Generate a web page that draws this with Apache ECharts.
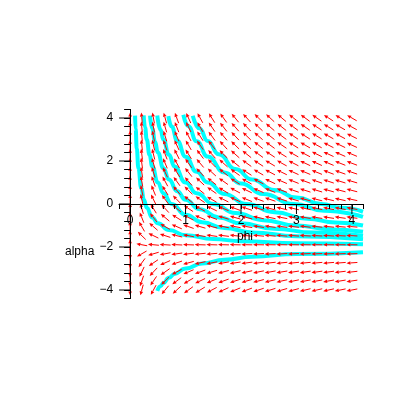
<!DOCTYPE html>
<html>
<head>
<meta charset="utf-8">
<script src="https://cdn.jsdelivr.net/npm/echarts@6/dist/echarts.min.js"></script>
<style>
  html, body { margin: 0; padding: 0; background: #fff; }
  #chart { width: 409px; height: 409px; }
</style>
</head>
<body>
<div id="chart"></div>
<script>
// arrow grid (20 x 20)
var phiGrid = [0, 0.211, 0.421, 0.632, 0.842, 1.053, 1.263, 1.474, 1.684, 1.895,
  2.105, 2.316, 2.526, 2.737, 2.947, 3.158, 3.368, 3.579, 3.789, 4.0]
var alphaGrid = [-4, -3.579, -3.158, -2.737, -2.316, -1.895, -1.474, -1.053, -0.632, -0.211,
  0.211, 0.632, 1.053, 1.474, 1.895, 2.316, 2.737, 3.158, 3.579, 4.0]
// horizontal rate for each column, vertical rate for each row
var phiRate = [0, -0.211, -0.421, -0.632, -0.842, -1.053, -1.263, -1.474, -1.684, -1.895,
  -2.105, -2.316, -2.526, -2.737, -2.947, -3.158, -3.368, -3.579, -3.789, -4.0]
var alphaRate = [-2, -1.579, -1.158, -0.737, -0.316, 0.105, 0.526, 0.947, 1.368, 1.789,
  2.211, 2.632, 3.053, 3.474, 3.895, 4.316, 4.737, 5.158, 5.579, 6.0]

// solution curves [phi, alpha]
var curveA = [[0.09, 4.11], [0.10, 3.5], [0.12, 2.58], [0.15, 1.67], [0.2, 0.75], [0.25, 0.2],
  [0.3, -0.17], [0.4, -0.63], [0.5, -0.9], [0.7, -1.21], [1.0, -1.45], [1.5, -1.63],
  [2.0, -1.73], [3.0, -1.82], [4.2, -1.87]]
var curveB = [[0.245, 4.12], [0.27, 3.56], [0.3, 3.0], [0.35, 2.29], [0.4, 1.75], [0.5, 1.0],
  [0.6, 0.5], [0.75, 0], [1.0, -0.5], [1.3, -0.85], [1.7, -1.12], [2.2, -1.32],
  [3.0, -1.5], [4.2, -1.64]]
var curveC = [[0.36, 4.11], [0.4, 3.5], [0.45, 2.89], [0.5, 2.4], [0.6, 1.67], [0.7, 1.14],
  [0.85, 0.59], [1.0, 0.2], [1.25, -0.24], [1.6, -0.625], [2.0, -0.9], [2.6, -1.15],
  [3.3, -1.33], [4.2, -1.48]]
var curveD = [[0.49, 4.12], [0.55, 3.45], [0.6, 3.0], [0.7, 2.29], [0.8, 1.75], [1.0, 1.0],
  [1.2, 0.5], [1.5, 0], [1.9, -0.42], [2.4, -0.75], [3.0, -1.0], [3.6, -1.17], [4.2, -1.29]]
var curveE = [[0.69, 4.09], [0.75, 3.6], [0.85, 2.94], [1.0, 2.2], [1.2, 1.5], [1.4, 1.0],
  [1.7, 0.47], [2.1, 0], [2.6, -0.38], [3.2, -0.69], [3.7, -0.86], [4.2, -1.0]]
var curveF = [[0.96, 4.15], [1.05, 3.62], [1.2, 2.92], [1.4, 2.21], [1.7, 1.47], [2.0, 0.95],
  [2.4, 0.46], [2.95, 0], [3.5, -0.31], [4.2, -0.6]]
var curveG = [[1.13, 4.11], [1.25, 3.52], [1.4, 2.93], [1.6, 2.31], [1.9, 1.63], [2.2, 1.14],
  [2.6, 0.65], [3.0, 0.3], [3.45, 0], [3.8, -0.18], [4.2, -0.36]]
var curveH = [[0.49, -4.04], [0.55, -3.82], [0.6, -3.67], [0.7, -3.43], [0.8, -3.25],
  [1.0, -3.0], [1.3, -2.77], [1.7, -2.59], [2.2, -2.45], [3.0, -2.33], [4.2, -2.24]]

var xMajor = [0, 1, 2, 3, 4]
var yMajor = [-4, -2, 0, 2, 4]

var font = 'Liberation Sans, Arial, sans-serif'

// axes cross at the origin; grid edges are at phi = -0.2 and alpha = -4.4
var gridLeft = 119
var gridTop = 109.4
var gridWidth = 244
var gridHeight = 189.2
var xAxisOffset = -gridHeight * 4.4 / 8.8
var yAxisOffset = -gridWidth * 0.2 / 4.4

var arrowData = []
for (var i = 0; i < phiGrid.length; i++) {
  for (var j = 0; j < alphaGrid.length; j++) {
    arrowData.push([phiGrid[i], alphaGrid[j], phiRate[i], alphaRate[j]])
  }
}

var tickData = []
xMajor.forEach(function (v) { tickData.push([v, 0, 0]) })
yMajor.forEach(function (v) { tickData.push([0, v, 1]) })

function renderArrow (params, api) {
  var x = api.value(0)
  var y = api.value(1)
  var u = api.value(2)
  var v = api.value(3)
  var c = api.coord([x, y])
  var d = api.coord([x + u * 0.01, y + v * 0.01])
  var dx = d[0] - c[0]
  var dy = d[1] - c[1]
  var n = Math.sqrt(dx * dx + dy * dy) || 1
  dx /= n
  dy /= n
  var L = 11
  var hl = 4
  var hw = 1.8
  var tip = [c[0] + dx * L / 2, c[1] + dy * L / 2]
  var tail = [c[0] - dx * L / 2, c[1] - dy * L / 2]
  var base = [tip[0] - dx * hl, tip[1] - dy * hl]
  return {
    type: 'group',
    children: [
      {
        type: 'line',
        shape: { x1: tail[0], y1: tail[1], x2: base[0], y2: base[1] },
        style: { stroke: '#ff0000', lineWidth: 1 }
      },
      {
        type: 'polygon',
        shape: {
          points: [tip, [base[0] - dy * hw, base[1] + dx * hw], [base[0] + dy * hw, base[1] - dx * hw]]
        },
        style: { fill: '#ff0000' }
      }
    ]
  }
}

function renderTick (params, api) {
  var p = api.coord([api.value(0), api.value(1)])
  var vertical = api.value(2) === 0
  return {
    type: 'line',
    shape: vertical
      ? { x1: p[0], y1: p[1], x2: p[0], y2: p[1] + 10 }
      : { x1: p[0], y1: p[1], x2: p[0] - 11, y2: p[1] },
    style: { stroke: '#000', lineWidth: 1 }
  }
}

function curve (data) {
  return {
    type: 'line',
    data: data,
    showSymbol: false,
    smooth: 0.5,
    smoothMonotone: 'x',
    lineStyle: { color: '#00ffff', width: 4 },
    z: 2,
    silent: true
  }
}

var myChart = echarts.init(document.getElementById('chart'))
myChart.setOption({
  animation: false,
  backgroundColor: '#fff',
  grid: { left: gridLeft, top: gridTop, width: gridWidth, height: gridHeight },
  xAxis: {
    type: 'value',
    min: -0.2,
    max: 4.2,
    interval: 0.2,
    position: 'bottom',
    offset: xAxisOffset,
    z: 10,
    name: 'phi',
    nameLocation: 'middle',
    nameGap: 27,
    nameTextStyle: { color: '#000', fontSize: 12, fontFamily: font, padding: [0, 0, 0, 8] },
    axisLine: { onZero: false, lineStyle: { color: '#000', width: 1 } },
    axisTick: { length: 5, lineStyle: { color: '#000' } },
    axisLabel: {
      margin: 11,
      color: '#000',
      fontSize: 12,
      fontFamily: font,
      formatter: function (v) {
        return Math.abs(v - Math.round(v)) < 1e-6 ? String(Math.round(v)) : ''
      }
    },
    splitLine: { show: false }
  },
  yAxis: {
    type: 'value',
    min: -4.4,
    max: 4.4,
    interval: 0.4,
    position: 'left',
    offset: yAxisOffset,
    z: 10,
    axisLine: { onZero: false, lineStyle: { color: '#000', width: 1 } },
    axisTick: { length: 6, lineStyle: { color: '#000' } },
    axisLabel: {
      margin: 17,
      color: '#000',
      fontSize: 12,
      fontFamily: font,
      formatter: function (v) {
        var k = Math.round(v / 2)
        if (Math.abs(v / 2 - k) > 1e-6) return ''
        return k < 0 ? '\u2212' + String(-2 * k) : String(2 * k)
      }
    },
    splitLine: { show: false }
  },
  graphic: [
    {
      type: 'text',
      left: 65,
      top: 246,
      style: { text: 'alpha', fill: '#000', fontSize: 12, fontFamily: font }
    }
  ],
  series: [
    curve(curveA), curve(curveB), curve(curveC), curve(curveD),
    curve(curveE), curve(curveF), curve(curveG), curve(curveH),
    {
      type: 'custom',
      name: 'field',
      data: arrowData,
      renderItem: renderArrow,
      z: 3,
      silent: true
    },
    {
      type: 'custom',
      name: 'majorTicks',
      data: tickData,
      renderItem: renderTick,
      clip: false,
      z: 11,
      silent: true
    }
  ]
})
</script>
</body>
</html>
